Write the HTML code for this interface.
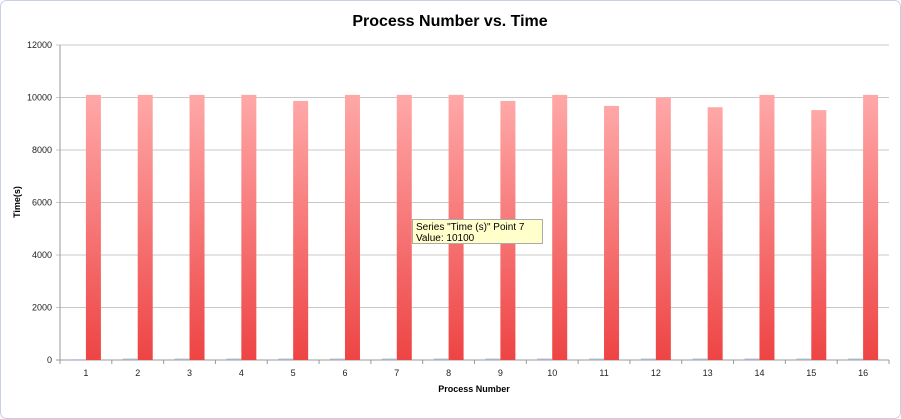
<!DOCTYPE html>
<html><head><meta charset="utf-8"><style>
body{margin:0;width:901px;height:419px;background:#fff;overflow:hidden;font-family:"Liberation Sans",sans-serif}
svg{position:absolute;left:0;top:0}
</style></head><body>
<svg width="901" height="419">
<defs><linearGradient id="g" x1="0" y1="0" x2="0" y2="1"><stop offset="0" stop-color="#ffa8a8"/><stop offset="1" stop-color="#ee4444"/></linearGradient></defs>
<rect x="0.5" y="0.5" width="900" height="418" rx="6" fill="#fff" stroke="#c8d0e8"/>
<text x="450" y="26" text-anchor="middle" font-size="16" font-weight="bold" fill="#000">Process Number vs. Time</text>
<g id="grid"></g><g id="bars"></g>
<text transform="translate(20,202) rotate(-90)" text-anchor="middle" font-size="9" font-weight="bold">Time(s)</text>
<text x="474" y="392" text-anchor="middle" font-size="9" font-weight="bold">Process Number</text>
<g>
<rect x="412.5" y="219.5" width="130" height="24" fill="#ffffcc" stroke="#aaa"/>
<text x="416" y="230" font-size="10">Series "Time (s)" Point 7</text>
<text x="416" y="241" font-size="10">Value: 10100</text>
</g>
</svg>
<script>
const categories=["1","2","3","4","5","6","7","8","9","10","11","12","13","14","15","16"];
const timeValues=[10100,10100,10100,10100,9870,10100,10100,10100,9870,10100,9680,10000,9630,10100,9520,10100];
const otherValues=[0,20,20,20,20,20,20,20,20,20,20,20,20,20,20,20];
const yTicks=[0,2000,4000,6000,8000,10000,12000];
const NS="http://www.w3.org/2000/svg";
const L=60,R=889,T=45,B=360,yMax=12000;
const cw=(R-L)/categories.length;
function y(v){return B-(v/yMax)*(B-T);}
function xc(i){return L+cw*(i+0.5);}
const grid=document.getElementById('grid'),bars=document.getElementById('bars');
function mk(tag,a,p){const e=document.createElementNS(NS,tag);for(const k in a)e.setAttribute(k,a[k]);p.appendChild(e);return e;}
yTicks.forEach(t=>{
 const l=mk('line',{x1:L-4,x2:R,y1:y(t),y2:y(t),stroke:t===0?'#999':'#c8c8c8','stroke-width':1},grid);
 
 
 const tx=mk('text',{x:L-8,y:y(t)+3,'text-anchor':'end','font-size':9,fill:'#222'},grid);tx.textContent=t;
 
 
});
mk('line',{x1:L,x2:L,y1:T,y2:B+4,stroke:'#999'},grid);
categories.forEach((c,i)=>{
 mk('line',{x1:L+cw*i,x2:L+cw*i,y1:B,y2:B+4,stroke:'#999'},grid);
 const tx=mk('text',{x:xc(i),y:B+16,'text-anchor':'middle','font-size':9,fill:'#222'},grid);tx.textContent=c;
 
 
 const b=mk('rect',{x:xc(i),y:y(timeValues[i]),width:15,height:B-y(timeValues[i]),fill:'url(#g)'},bars);
 
 
 const o=mk('rect',{x:xc(i)-15,y:y(otherValues[i])-1,width:15,height:Math.max(1,B-y(otherValues[i])),fill:'#b8cce8'},bars);
 
 
});
mk('line',{x1:R,x2:R,y1:B,y2:B+4,stroke:'#999'},grid);
</script>
</body></html>
